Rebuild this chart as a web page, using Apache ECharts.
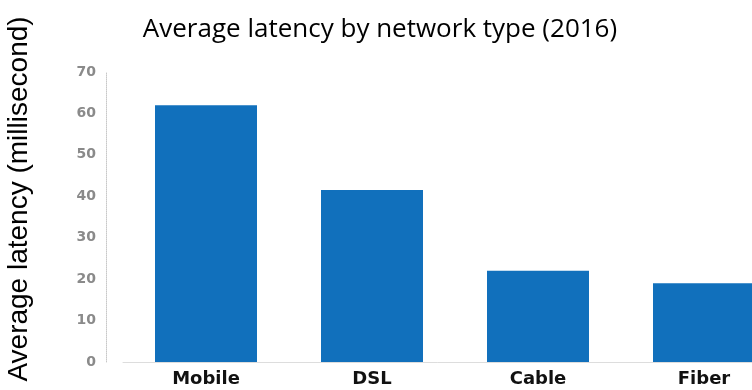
<!DOCTYPE html>
<html>
<head>
<meta charset="utf-8">
<script src="https://cdn.jsdelivr.net/npm/echarts@6/dist/echarts.min.js"></script>
<style>
  html, body { margin: 0; padding: 0; background: #fff; }
  #main { width: 752px; height: 390px; }
</style>
</head>
<body>
<div id="main"></div>
<script>
// data
var networkTypes = ['Mobile', 'DSL', 'Cable', 'Fiber'];
var latencyMs = [62, 41.5, 22, 19];

var chart = echarts.init(document.getElementById('main'));

var option = {
    animation: false,
    title: {
        text: 'Average latency by network type (2016)',
        left: 375,
        textAlign: 'center',
        top: 12,
        textStyle: {
            fontFamily: 'Open Sans',
            fontWeight: 'normal',
            fontSize: 26,
            color: '#000'
        }
    },
    // the last bar runs off the right edge, so the grid is wider than the canvas
    grid: { left: 123, width: 664, top: 72, bottom: 28, outerBoundsMode: 'none', containLabel: false },
    xAxis: {
        type: 'category',
        data: networkTypes,
        axisLine: { lineStyle: { color: '#dddddd' } },
        axisTick: { show: false },
        axisLabel: {
            margin: 8,
            color: '#111',
            fontFamily: 'DejaVu Sans',
            fontWeight: 'bold',
            fontSize: 18
        }
    },
    yAxis: {
        type: 'value',
        min: 0,
        max: 70,
        interval: 10,
        offset: 17,
        name: 'Average latency (millisecond)',
        nameLocation: 'middle',
        nameRotate: 90,
        nameGap: 73,
        nameTextStyle: {
            fontFamily: 'Liberation Sans',
            fontSize: 28,
            color: '#000',
            padding: [0, 0, 0, 36]
        },
        axisLine: { show: true, lineStyle: { color: '#c8c8c8', type: 'dotted' } },
        axisTick: { show: false },
        splitLine: { show: false },
        axisLabel: {
            margin: 10,
            color: '#8a8a8a',
            fontFamily: 'DejaVu Sans',
            fontWeight: 'bold',
            fontSize: 14
        }
    },
    series: [{
        type: 'bar',
        data: latencyMs,
        barWidth: 102,
        itemStyle: { color: '#1170bc' }
    }]
};

chart.setOption(option);
</script>
</body>
</html>
